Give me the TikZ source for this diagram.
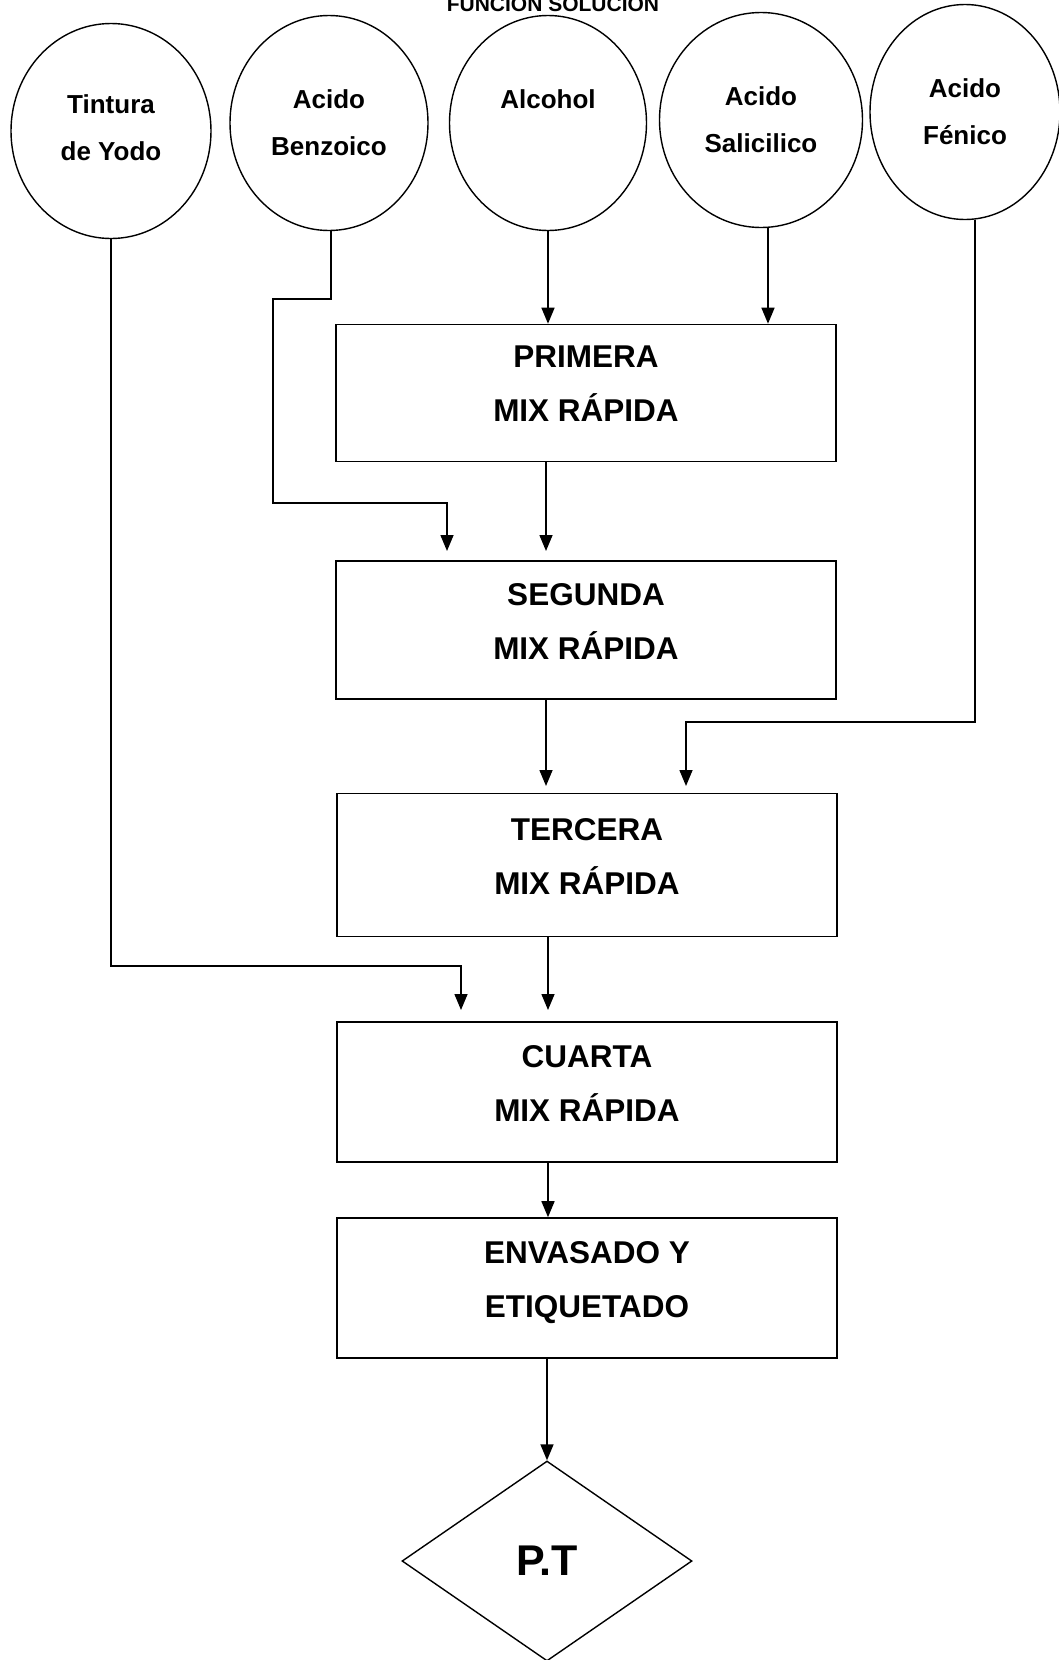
\documentclass[tikz,border=0pt]{standalone}
\usepackage{fontspec}
\setmainfont{Liberation Sans}
\usetikzlibrary{shapes.geometric,arrows.meta}
\begin{document}
\begin{tikzpicture}[x=1pt,y=-1pt,
  src/.style={draw, ellipse, line width=1.4pt, minimum width=200pt, minimum height=215pt,
    inner sep=0pt, align=center, font=\fontsize{26}{47}\selectfont\bfseries},
  proc/.style={draw, rectangle, line width=1.6pt, minimum width=500pt, minimum height=138pt,
    inner sep=0pt, align=center, text depth=18pt, font=\fontsize{31.5}{54}\selectfont\bfseries},
  flow/.style={line width=1.5pt, -{Triangle[length=16pt,width=13pt]}}
]
\useasboundingbox[fill=white] (0,0) rectangle (1058,1660);

% partially visible title (cut at the top edge, as in the scan)
\begin{scope}
\clip (0,0) rectangle (1058,1660);
\node[anchor=base, inner sep=0pt, font=\fontsize{21}{21}\selectfont\bfseries] (title) at (553,11) {FUNCIÓN SOLUCIÓN};
\end{scope}

% sources
\node[src, text depth=6pt] (c1) at (111,131) {Tintura\\de Yodo};
\node[src, minimum width=198pt] (c2) at (329,123) {Acido\\Benzoico};
\node[src, minimum width=197pt] (c3) at (548,123) {Alcohol\\~};
\node[src, minimum width=203pt] (c4) at (761,120) {Acido\\Salicilico};
\node[src, minimum width=190pt] (c5) at (965,112) {Acido\\Fénico};

% process boxes
\node[proc, minimum height=137pt] (b1) at (586,393) {PRIMERA\\MIX RÁPIDA};
\node[proc] (b2) at (586,630) {SEGUNDA\\MIX RÁPIDA};
\node[proc, minimum height=143pt] (b3) at (587,865) {TERCERA\\MIX RÁPIDA};
\node[proc, minimum height=140pt] (b4) at (587,1092) {CUARTA\\MIX RÁPIDA};
\node[proc, minimum height=140pt] (b5) at (587,1288) {ENVASADO Y\\ETIQUETADO};

% final product
\node[draw, diamond, line width=1.4pt, minimum width=290pt, minimum height=200pt, inner sep=0pt,
  font=\fontsize{43}{43}\selectfont\bfseries] (pt) at (547,1561) {P.T};

% helper coordinates
\coordinate (mx) at (546,0);
\coordinate (t2a) at (447,551);
\coordinate (t2b) at (546,551);
\coordinate (t3a) at (686,786);
\coordinate (t3b) at (546,786);
\coordinate (t4a) at (461,1010);
\coordinate (t4b) at (548,1010);
\coordinate (j1) at (461,966);

% connectors
\draw[flow] (c3.south) -- (c3.south |- b1.north);
\draw[flow] ([xshift=7pt]c4.south) -- ([xshift=7pt]c4.south |- b1.north);
\draw[flow] ([xshift=2pt]c2.south) -- (331,299) -- (273,299) -- (273,503) -- (447,503) -- (t2a);
\draw[flow] (b1.south -| mx) -- (t2b);
\draw[flow] ([xshift=10pt]c5.south) -- (975,722) -- (686,722) -- (t3a);
\draw[flow] (b2.south -| mx) -- (t3b);
\draw[flow] (c1.south) |- (j1) -- (t4a);
\draw[flow] (b3.south -| t4b) -- (t4b);
\draw[flow] (b4.south -| t4b) -- (b5.north -| t4b);
\draw[flow] (b5.south -| pt.north) -- (pt.north);
\end{tikzpicture}
\end{document}
